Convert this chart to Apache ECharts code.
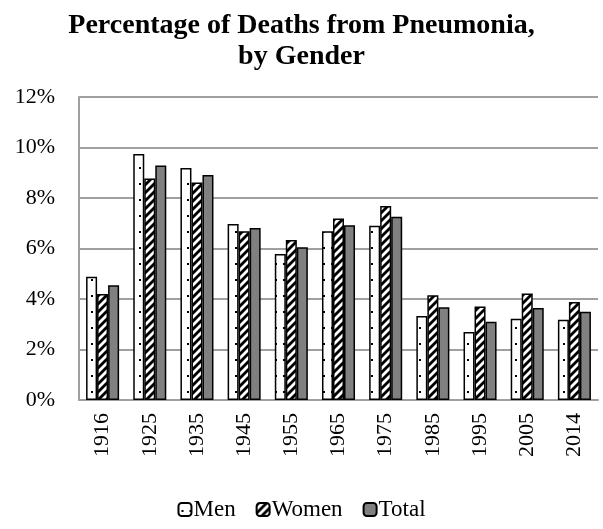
<!DOCTYPE html>
<html>
<head>
<meta charset="utf-8">
<script src="https://cdn.jsdelivr.net/npm/echarts@6/dist/echarts.min.js"></script>
<style>
  html, body { margin: 0; padding: 0; background: #fff; }
  #chart { width: 603px; height: 529px; }
</style>
</head>
<body>
<div id="chart"></div>
<script>
var years = ['1916', '1925', '1935', '1945', '1955', '1965', '1975', '1985', '1995', '2005', '2014']
var men = [4.88, 9.74, 9.19, 6.97, 5.78, 6.68, 6.90, 3.33, 2.69, 3.22, 3.18]
var women = [4.20, 8.77, 8.61, 6.68, 6.34, 7.19, 7.68, 4.15, 3.70, 4.22, 3.88]
var total = [4.54, 9.29, 8.91, 6.81, 6.05, 6.92, 7.26, 3.67, 3.10, 3.64, 3.50]

var serif = 'Liberation Serif, Times New Roman, serif'

// dotted fill for Men
function dotPattern() {
  var c = document.createElement('canvas')
  c.width = 8
  c.height = 16
  var ctx = c.getContext('2d')
  ctx.fillStyle = '#fff'
  ctx.fillRect(0, 0, 8, 16)
  ctx.fillStyle = '#000'
  ctx.fillRect(3, 7, 2, 2)
  return c
}

// diagonal stripes for Women
function stripePattern() {
  var c = document.createElement('canvas')
  c.width = 8
  c.height = 8
  var ctx = c.getContext('2d')
  ctx.fillStyle = '#fff'
  ctx.fillRect(0, 0, 8, 8)
  ctx.fillStyle = '#000'
  ctx.beginPath()
  ctx.moveTo(0, 8); ctx.lineTo(4, 8); ctx.lineTo(8, 4); ctx.lineTo(8, 0); ctx.closePath()
  ctx.fill()
  ctx.beginPath()
  ctx.moveTo(0, 0); ctx.lineTo(0, 4); ctx.lineTo(4, 0); ctx.closePath()
  ctx.fill()
  return c
}

var myChart = echarts.init(document.getElementById('chart'))

var barStyle = { borderColor: '#000', borderWidth: 1.5 }

var option = {
  animation: false,
  title: {
    text: 'Percentage of Deaths from Pneumonia,\nby Gender',
    left: 'center',
    top: 5,
    textStyle: { fontFamily: serif, fontWeight: 'bold', fontSize: 28, lineHeight: 31, color: '#000' }
  },
  legend: {
    bottom: 3,
    left: 'center',
    itemWidth: 13,
    itemHeight: 13,
    itemGap: 20,
    textStyle: { fontFamily: serif, fontSize: 23, color: '#000', padding: [0, 0, 0, -3] },
    data: ['Men', 'Women', 'Total']
  },
  grid: { left: 79, right: 5, top: 97, bottom: 129 },
  xAxis: {
    type: 'category',
    data: years,
    axisLine: { lineStyle: { color: '#a0a0a0', width: 2 } },
    axisTick: { show: false },
    axisLabel: { rotate: 90, fontFamily: serif, fontSize: 22, color: '#000', margin: 13 }
  },
  yAxis: {
    type: 'value',
    min: 0,
    max: 12,
    interval: 2,
    axisLine: { show: true, lineStyle: { color: '#a0a0a0', width: 2 } },
    axisTick: { show: false },
    splitLine: { lineStyle: { color: '#a0a0a0', width: 2 } },
    axisLabel: { formatter: '{value}%', fontFamily: serif, fontSize: 22, color: '#000', margin: 24 }
  },
  series: [
    {
      name: 'Men', type: 'bar', data: men,
      barGap: '0%', barCategoryGap: '30%',
      itemStyle: Object.assign({ color: { image: dotPattern(), repeat: 'repeat' } }, barStyle)
    },
    {
      name: 'Women', type: 'bar', data: women,
      barGap: '0%', barCategoryGap: '30%',
      itemStyle: Object.assign({ color: { image: stripePattern(), repeat: 'repeat' } }, barStyle)
    },
    {
      name: 'Total', type: 'bar', data: total,
      barGap: '0%', barCategoryGap: '30%',
      itemStyle: Object.assign({ color: '#808080' }, barStyle)
    }
  ]
}

myChart.setOption(option)
</script>
</body>
</html>
